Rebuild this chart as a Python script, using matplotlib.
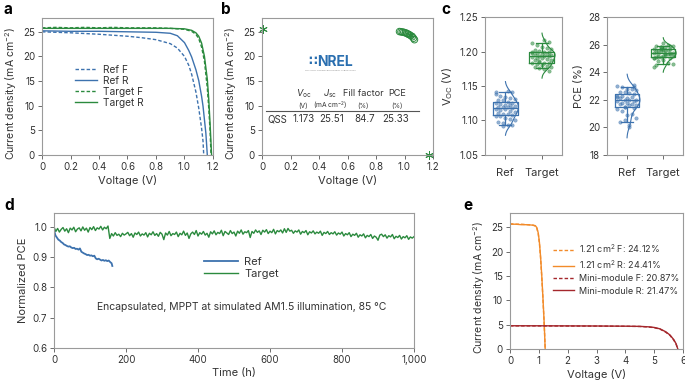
import numpy as np
import matplotlib
matplotlib.use("Agg")
import matplotlib.pyplot as plt
from matplotlib import mlab
from matplotlib.ticker import FuncFormatter

plt.rcParams["font.family"] = ["Inter", "DejaVu Sans"]
plt.rcParams["mathtext.fontset"] = "custom"
plt.rcParams["mathtext.rm"] = "Inter"
plt.rcParams["mathtext.it"] = "Inter:italic"
plt.rcParams["font.size"] = 7

BLUE = "#3d72ae"
GREEN = "#2b8a3e"
ORANGE = "#f28b2a"
DARKRED = "#a4272c"
SPINE = "#9a9a9a"
TXT = "#333333"

# ---- panel a: J-V curves ----
ref_f_v = [0.0, 0.2, 0.4, 0.6, 0.7, 0.8, 0.9, 0.95, 1.0, 1.03, 1.05, 1.08, 1.1, 1.12, 1.13, 1.135]
ref_f_j = [25.0, 24.8, 24.5, 24.1, 23.8, 23.4, 22.6, 21.7, 20.0, 18.2, 16.4, 12.8, 9.5, 5.4, 2.8, 0.0]
ref_r_v = [0.0, 0.2, 0.4, 0.6, 0.8, 0.9, 0.95, 1.0, 1.03, 1.05, 1.08, 1.1, 1.12, 1.13, 1.15, 1.16]
ref_r_j = [25.2, 25.1, 25.1, 25.0, 24.9, 24.7, 24.2, 22.8, 21.2, 19.9, 17.3, 15.1, 11.9, 9.9, 4.4, 0.0]
tgt_f_v = [0.0, 0.1, 0.2, 0.3, 0.4, 0.5, 0.6, 0.7, 0.8, 0.9, 1.0, 1.05, 1.08, 1.1, 1.12, 1.14, 1.16, 1.17, 1.18, 1.186]
tgt_f_j = [25.8, 25.9, 25.8, 25.9, 25.8, 25.9, 25.8, 25.8, 25.8, 25.7, 25.5, 25.1, 24.5, 23.6, 21.9, 19.0, 13.6, 9.6, 4.6, 0.0]
tgt_r_v = [0.0, 0.2, 0.4, 0.6, 0.8, 0.9, 1.0, 1.05, 1.08, 1.1, 1.12, 1.14, 1.16, 1.17, 1.18, 1.19]
tgt_r_j = [25.7, 25.7, 25.7, 25.7, 25.7, 25.7, 25.6, 25.3, 24.8, 24.1, 22.7, 20.0, 15.4, 11.4, 6.1, 0.0]

# ---- panel b: certified QSS measurement ----
qss_v = [0.965, 0.975, 0.985, 0.995, 1.005, 1.015, 1.025, 1.035, 1.045, 1.055, 1.063, 1.07]
qss_j = [25.05, 25.0, 24.95, 24.9, 24.8, 24.7, 24.55, 24.4, 24.2, 24.0, 23.7, 23.4]
key_v = [0.005, 1.04, 1.173]
key_j = [25.51, 24.3, 0.0]
table_head = ["$V_{\\rm oc}$", "$J_{\\rm sc}$", "Fill factor", "PCE"]
table_unit = ["(V)", "(mA cm$^{-2}$)", "(%)", "(%)"]
table_row = ["QSS", "1.173", "25.51", "84.7", "25.33"]

# ---- panel c: statistics ----
groups = ["Ref", "Target"]
voc_ref = [1.143, 1.141, 1.138, 1.136, 1.134, 1.132, 1.131, 1.130, 1.129, 1.127,
           1.126, 1.125, 1.124, 1.123, 1.122, 1.121, 1.120, 1.120, 1.119, 1.118,
           1.117, 1.116, 1.115, 1.114, 1.112, 1.111, 1.110, 1.109, 1.108, 1.107,
           1.106, 1.104, 1.102, 1.100, 1.098, 1.096, 1.094, 1.093, 1.092, 1.142]
voc_tgt = [1.216, 1.214, 1.212, 1.210, 1.207, 1.205, 1.203, 1.202, 1.201, 1.200,
           1.200, 1.199, 1.198, 1.197, 1.196, 1.195, 1.195, 1.194, 1.194, 1.193,
           1.192, 1.191, 1.190, 1.189, 1.188, 1.187, 1.186, 1.185, 1.184, 1.184,
           1.183, 1.182, 1.180, 1.179, 1.178, 1.177, 1.176, 1.175, 1.172, 1.198]
pce_ref = [23.1, 23.0, 22.9, 22.8, 22.8, 22.7, 22.6, 22.6, 22.5, 22.4,
           22.3, 22.2, 22.2, 22.1, 22.1, 22.0, 22.0, 22.0, 21.9, 21.9,
           21.8, 21.8, 21.7, 21.7, 21.6, 21.6, 21.5, 21.5, 21.4, 21.3,
           21.2, 21.0, 20.9, 20.7, 20.5, 20.4, 20.2, 20.0, 22.9, 22.3]
pce_tgt = [26.1, 26.0, 25.9, 25.9, 25.8, 25.8, 25.7, 25.7, 25.7, 25.6,
           25.6, 25.5, 25.5, 25.5, 25.4, 25.4, 25.4, 25.4, 25.3, 25.3,
           25.3, 25.2, 25.2, 25.2, 25.1, 25.1, 25.1, 25.0, 25.0, 24.9,
           24.8, 24.7, 24.6, 24.5, 24.4, 25.6, 25.8, 25.3, 25.9, 25.0]

# ---- panel d: stability ----
ref_time = [0, 4, 8, 12, 16, 20, 24, 28, 32, 36, 40, 44, 48, 52, 56, 60, 64, 68, 72, 76,
            80, 84, 88, 92, 96, 100, 104, 108, 112, 116, 120, 124, 128, 132, 136, 140,
            144, 148, 152, 156, 160, 162]
ref_pce = [0.990, 0.972, 0.965, 0.958, 0.955, 0.950, 0.947, 0.942, 0.940, 0.937,
           0.935, 0.936, 0.932, 0.930, 0.931, 0.927, 0.928, 0.925, 0.929, 0.918,
           0.915, 0.912, 0.910, 0.907, 0.908, 0.905, 0.906, 0.903, 0.905, 0.896,
           0.893, 0.895, 0.892, 0.889, 0.891, 0.888, 0.890, 0.887, 0.889, 0.884,
           0.880, 0.871]
tgt_time = list(range(0, 1001, 5))
tgt_pce = [
    1.000, 0.985, 0.995, 0.983, 0.992, 0.998, 0.986, 0.994, 0.981, 0.996,
    0.990, 0.999, 0.984, 0.993, 0.997, 0.987, 1.000, 0.989, 0.996, 0.983,
    0.998, 0.991, 1.001, 0.988, 0.997, 0.993, 1.002, 0.990, 0.999, 0.994,
    1.003, 0.962, 0.978, 0.970, 0.981, 0.972, 0.976, 0.968, 0.979, 0.973,
    0.977, 0.982, 0.971, 0.978, 0.966, 0.980, 0.975, 0.983, 0.970, 0.977,
    0.973, 0.981, 0.967, 0.979, 0.974, 0.984, 0.972, 0.978, 0.969, 0.982,
    0.976, 0.958, 0.980, 0.973, 0.985, 0.971, 0.978, 0.975, 0.983, 0.968,
    0.979, 0.974, 0.986, 0.972, 0.980, 0.962, 0.977, 0.983, 0.975, 0.988,
    0.970, 0.981, 0.976, 0.985, 0.973, 0.979, 0.966, 0.984, 0.977, 0.987,
    0.974, 0.982, 0.978, 0.989, 0.971, 0.985, 0.980, 0.975, 0.988, 0.978,
    0.983, 0.970, 0.986, 0.979, 0.990, 0.976, 0.984, 0.981, 0.988, 0.965,
    0.985, 0.979, 0.990, 0.982, 0.987, 0.975, 0.989, 0.983, 0.991, 0.978,
    0.986, 0.981, 0.992, 0.977, 0.988, 0.984, 0.990, 0.980, 0.994, 0.982,
    0.995, 0.986, 0.989, 0.979, 0.987, 0.983, 0.990, 0.976, 0.985, 0.981,
    0.988, 0.974, 0.984, 0.980, 0.987, 0.977, 0.983, 0.979, 0.986, 0.972,
    0.982, 0.978, 0.985, 0.975, 0.981, 0.977, 0.984, 0.973, 0.980, 0.976,
    0.983, 0.970, 0.978, 0.974, 0.981, 0.968, 0.976, 0.972, 0.979, 0.966,
    0.974, 0.970, 0.977, 0.964, 0.972, 0.968, 0.975, 0.962, 0.970, 0.966,
    0.956, 0.973, 0.976, 0.968, 0.974, 0.963, 0.971, 0.967, 0.975, 0.961,
    0.969, 0.965, 0.972, 0.960, 0.968, 0.964, 0.971, 0.959, 0.967, 0.963,
    0.968,
]

# ---- panel e: large area ----
cell_v = [0.0, 0.2, 0.4, 0.6, 0.8, 0.88, 0.93, 0.98, 1.02, 1.06, 1.1, 1.14, 1.18, 1.2, 1.22]
cell_f_j = [25.7, 25.6, 25.6, 25.5, 25.4, 25.2, 24.8, 23.6, 21.7, 18.7, 14.9, 10.6, 5.8, 3.1, 0.0]
cell_r_j = [25.6, 25.6, 25.5, 25.5, 25.4, 25.3, 24.9, 23.8, 21.9, 19.0, 15.2, 10.8, 6.0, 3.2, 0.0]
mod_v = [0.0, 1.0, 2.0, 3.0, 4.0, 4.5, 4.8, 5.0, 5.2, 5.4, 5.55, 5.68, 5.76, 5.82]
mod_f_j = [4.75, 4.74, 4.72, 4.70, 4.66, 4.62, 4.52, 4.38, 4.08, 3.46, 2.78, 1.82, 1.00, 0.0]
mod_r_j = [4.77, 4.76, 4.74, 4.72, 4.68, 4.64, 4.55, 4.42, 4.14, 3.54, 2.86, 1.92, 1.08, 0.0]
e_labels = ["1.21 cm$^{2}$ F: 24.12%", "1.21 cm$^{2}$ R: 24.41%",
            "Mini-module F: 20.87%", "Mini-module R: 21.47%"]

W, H = 685, 385


def axes_px(fig, left, right, top, bottom):
    return fig.add_axes([left / W, 1 - bottom / H, (right - left) / W, (bottom - top) / H])


def style(ax):
    for s in ax.spines.values():
        s.set_color(SPINE)
        s.set_linewidth(0.8)
    ax.tick_params(direction="out", length=3, width=0.6, color="#555555",
                   labelcolor=TXT, labelsize=7, pad=2)


def jsc_axis(ax):
    ax.set_xlim(0, 1.2)
    ax.set_ylim(0, 27.8)
    ax.set_xticks([0, 0.2, 0.4, 0.6, 0.8, 1.0, 1.2])
    ax.set_xticklabels(["0", "0.2", "0.4", "0.6", "0.8", "1.0", "1.2"])
    ax.set_yticks([0, 5, 10, 15, 20, 25])
    ax.set_xlabel("Voltage (V)", fontsize=8, color=TXT, labelpad=2)
    ax.set_ylabel("Current density (mA cm$^{-2}$)", fontsize=7.6, color=TXT,
                  labelpad=3, y=0.45)


def box_violin(ax, datasets, colors, ylim, yticks, ylabel, fmt):
    for i, (vals, c) in enumerate(zip(datasets, colors)):
        vals = np.asarray(vals)
        kde = mlab.GaussianKDE(vals)
        bw = kde.factor * vals.std()
        ys = np.linspace(vals.min() - 2 * bw, vals.max() + 2 * bw, 120)
        dens = kde(ys)
        ax.plot(i + dens / dens.max() * 0.36, ys, color=c, lw=0.8)
        ax.boxplot([vals], positions=[i], widths=0.68, whis=(5, 95), showfliers=False,
                   capwidths=0.32,
                   boxprops=dict(color=c, lw=0.9), medianprops=dict(color=c, lw=0.9),
                   whiskerprops=dict(color=c, lw=0.9), capprops=dict(color=c, lw=0.9))
        order = np.argsort(vals)
        jitter = (((np.arange(len(vals)) * 7) % 9) - 4) / 4 * 0.26
        ax.scatter(i + jitter[order], vals, s=6, facecolor=c, edgecolor=c,
                   alpha=0.55, lw=0.4, zorder=3)
    ax.set_xlim(-0.55, 1.55)
    ax.set_ylim(*ylim)
    ax.set_yticks(yticks)
    ax.yaxis.set_major_formatter(FuncFormatter(fmt))
    ax.set_xticks([0, 1])
    ax.set_xticklabels(groups, fontsize=8)
    ax.set_ylabel(ylabel, fontsize=8, color=TXT, labelpad=3)


fig = plt.figure(figsize=(W / 100, H / 100), dpi=100)

# a
ax_a = axes_px(fig, 42, 213, 18, 155)
ax_a.plot(ref_f_v, ref_f_j, color=BLUE, lw=1.0, ls=(0, (2.5, 1.5)), label="Ref F")
ax_a.plot(ref_r_v, ref_r_j, color=BLUE, lw=1.0, label="Ref R")
ax_a.plot(tgt_f_v, tgt_f_j, color=GREEN, lw=1.0, ls=(0, (2.5, 1.5)), label="Target F")
ax_a.plot(tgt_r_v, tgt_r_j, color=GREEN, lw=1.0, label="Target R")
jsc_axis(ax_a)
style(ax_a)
ax_a.legend(loc="center left", bbox_to_anchor=(0.14, 0.5), frameon=False, fontsize=7.3,
            handlelength=2.2, handletextpad=0.6, labelspacing=0.1, labelcolor=TXT)

# b
ax_b = axes_px(fig, 262, 433, 18, 155)
ax_b.scatter(qss_v, qss_j, s=22, facecolor="none", edgecolor=GREEN, lw=0.7)
ax_b.scatter(key_v, key_j, s=30, marker=(6, 2, 0), color=GREEN, lw=0.7, clip_on=False)
jsc_axis(ax_b)
style(ax_b)
ax_b.text(0.385, 18.9, "\u2237", color="#2a6fb0", fontsize=9, ha="right", va="center",
          fontweight="bold")
ax_b.text(0.385, 18.9, "NREL", color="#2a6fb0", fontsize=10, ha="left", va="center",
          fontweight="bold")
ax_b.text(0.48, 17.2, "NATIONAL RENEWABLE ENERGY LABORATORY", color="#888888",
          fontsize=1.6, ha="center", va="center")
head_x = [0.29, 0.48, 0.71, 0.95]
for x, h, u in zip(head_x, table_head, table_unit):
    ax_b.text(x, 12.4, h, fontsize=6.6, ha="center", va="center", color=TXT)
    ax_b.text(x, 10.0, u, fontsize=4.8, ha="center", va="center", color=TXT)
ax_b.plot([0.03, 1.1], [9.0, 9.0], color="#555555", lw=0.8)
row_x = [0.11, 0.29, 0.49, 0.72, 0.94]
for x, t in zip(row_x, table_row):
    ax_b.text(x, 7.3, t, fontsize=7, ha="center", va="center", color=TXT)

# c
ax_c1 = axes_px(fig, 485, 562, 17, 155)
box_violin(ax_c1, [voc_ref, voc_tgt], [BLUE, GREEN], (1.05, 1.25),
           [1.05, 1.10, 1.15, 1.20, 1.25], "V$_{\\rm OC}$ (V)", lambda v, p: f"{v:.2f}")
style(ax_c1)
ax_c2 = axes_px(fig, 607, 683, 17, 155)
box_violin(ax_c2, [pce_ref, pce_tgt], [BLUE, GREEN], (18, 28),
           [18, 20, 22, 24, 26, 28], "PCE (%)", lambda v, p: f"{v:.0f}")
style(ax_c2)
for ax in (ax_c1, ax_c2):
    ax.tick_params(axis="x", labelsize=8, pad=6)

# d
ax_d = axes_px(fig, 54, 414, 213, 348)
ax_d.plot(tgt_time, tgt_pce, color=GREEN, lw=1.0, label="Target")
ax_d.plot(ref_time, ref_pce, color=BLUE, lw=1.3, label="Ref")
ax_d.set_xlim(0, 1000)
ax_d.set_ylim(0.6, 1.046)
ax_d.set_yticks([0.6, 0.7, 0.8, 0.9, 1.0])
ax_d.set_yticklabels(["0.6", "0.7", "0.8", "0.9", "1.0"])
ax_d.set_xticks([0, 200, 400, 600, 800, 1000])
ax_d.set_xticklabels(["0", "200", "400", "600", "800", "1,000"])
ax_d.set_xlabel("Time (h)", fontsize=8, color=TXT, labelpad=2)
ax_d.set_ylabel("Normalized PCE", fontsize=8, color=TXT, labelpad=3)
style(ax_d)
h_d, l_d = ax_d.get_legend_handles_labels()
ax_d.legend(h_d[::-1], l_d[::-1], loc="center left", bbox_to_anchor=(0.39, 0.595),
            frameon=False, fontsize=8, handlelength=3.0, handletextpad=0.6,
            labelspacing=0.2, labelcolor=TXT)
ax_d.text(0.52, 0.30, "Encapsulated, MPPT at simulated AM1.5 illumination, 85 \u00b0C",
          transform=ax_d.transAxes, fontsize=7.5, ha="center", va="center", color=TXT)

# e
ax_e = axes_px(fig, 510, 683, 213, 349)
ax_e.plot(cell_v, cell_f_j, color=ORANGE, lw=1.0, ls=(0, (2.5, 1.5)), label=e_labels[0])
ax_e.plot(cell_v, cell_r_j, color=ORANGE, lw=1.0, label=e_labels[1])
ax_e.plot(mod_v, mod_f_j, color=DARKRED, lw=1.0, ls=(0, (2.5, 1.5)), label=e_labels[2])
ax_e.plot(mod_v, mod_r_j, color=DARKRED, lw=1.0, label=e_labels[3])
ax_e.set_xlim(0, 6)
ax_e.set_ylim(0, 27.9)
ax_e.set_xticks(range(7))
ax_e.set_yticks([0, 5, 10, 15, 20, 25])
ax_e.set_xlabel("Voltage (V)", fontsize=8, color=TXT, labelpad=2)
ax_e.set_ylabel("Current density (mA cm$^{-2}$)", fontsize=7.6, color=TXT,
                labelpad=3, y=0.45)
style(ax_e)
ax_e.legend(loc="upper left", bbox_to_anchor=(0.2, 0.84), frameon=False, fontsize=6.5,
            handlelength=2.4, handletextpad=0.5, labelspacing=0.35, labelcolor=TXT)

for lab, x, y in [("a", 3, 9), ("b", 221, 9), ("c", 441, 9), ("d", 4, 206), ("e", 463, 206)]:
    fig.text(x / W, 1 - y / H, lab, fontsize=11, fontweight="bold", va="center", ha="left")

fig.savefig("out.png", dpi=100)
